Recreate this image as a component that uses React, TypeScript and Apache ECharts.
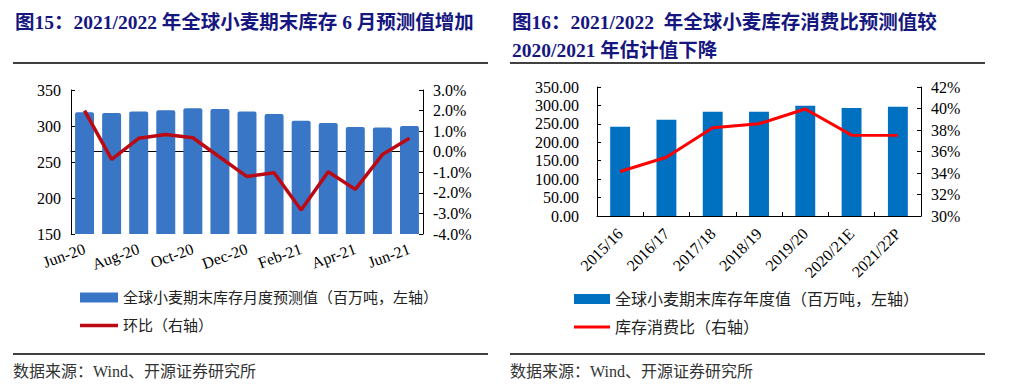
import React, { useEffect, useRef } from "react";
import * as echarts from "echarts";

// Left chart (图15)
const monthCats = ["Jun-20", "Jul-20", "Aug-20", "Sep-20", "Oct-20", "Nov-20", "Dec-20", "Jan-21", "Feb-21", "Mar-21", "Apr-21", "May-21", "Jun-21"];
const monthStocks = [319, 318, 320, 322, 324.5, 323.6, 320, 316.7, 307.4, 304, 298.6, 298, 300];
const monthChange = [2.0, -0.37, 0.65, 0.84, 0.68, -0.27, -1.21, -1.02, -2.83, -0.97, -1.83, -0.14, 0.65];

// Right chart (图16)
const yearCats = ["2015/16", "2016/17", "2017/18", "2018/19", "2019/20", "2020/21E", "2021/22P"];
const yearStocks = [242, 261, 283, 283, 299, 293, 296.5];
const stockToUse = [34.14, 35.47, 38.2, 38.58, 39.95, 37.52, 37.5];

const leftTitle = "图15：2021/2022 年全球小麦期末库存 6 月预测值增加";
const rightTitle1 = "图16：2021/2022  年全球小麦库存消费比预测值较";
const rightTitle2 = "2020/2021 年估计值下降";
const source = "数据来源：Wind、开源证券研究所";
const leftBarName = "全球小麦期末库存月度预测值（百万吨，左轴）";
const leftLineName = "环比（右轴）";
const rightBarName = "全球小麦期末库存年度值（百万吨，左轴）";
const rightLineName = "库存消费比（右轴）";

const SERIF = "'Liberation Serif', 'Noto Sans CJK SC', serif";
const CJK = "'Liberation Serif', 'Noto Sans CJK SC', sans-serif";
const TITLE_COLOR = "#16167f";

export default function App() {
  const ref = useRef<HTMLDivElement>(null);
  useEffect(() => {
    if (!ref.current) return;
    const chart = echarts.init(ref.current, null, { renderer: "svg" });
    const axisLine = { show: true, lineStyle: { color: "#000", width: 1 } };
    const axisLabel = { color: "#000", fontSize: 16, fontFamily: SERIF };
    const tickIn = { show: true, inside: true, length: 4, lineStyle: { color: "#000" } };
    const hline = (x1: number, x2: number, y: number) => ({
      type: "line",
      shape: { x1, y1: y, x2, y2: y },
      style: { stroke: "#000", lineWidth: 1.5 },
    });
    const text = (t: string, x: number, y: number, size: number, bold: boolean, color: string) => ({
      type: "text",
      x,
      y,
      style: {
        text: t,
        fontSize: size,
        fontWeight: bold ? "bold" : "normal",
        fontFamily: CJK,
        fill: color,
        verticalAlign: "middle",
        align: "left",
      },
    });
    const legendBase = {
      padding: 0,
      itemGap: 5,
      textStyle: { color: "#222", fontFamily: CJK },
      orient: "horizontal",
    };
    chart.setOption({
      animation: false,
      grid: [
        { left: 71, right: 594, top: 90, height: 144 },
        { left: 597, right: 96, top: 87, height: 129 },
      ],
      xAxis: [
        {
          type: "category",
          gridIndex: 0,
          data: monthCats,
          axisLine,
          axisTick: { show: false },
          axisLabel: { ...axisLabel, interval: 1, rotate: 20, margin: 14 },
        },
        {
          type: "category",
          gridIndex: 1,
          data: yearCats,
          axisLine,
          axisTick: tickIn,
          axisLabel: { ...axisLabel, interval: 0, rotate: 45, margin: 15 },
        },
      ],
      yAxis: [
        {
          type: "value",
          gridIndex: 0,
          min: 150,
          max: 350,
          interval: 50,
          axisLine,
          axisTick: tickIn,
          splitLine: { show: false },
          axisLabel: { ...axisLabel, margin: 10 },
        },
        {
          type: "value",
          gridIndex: 0,
          position: "right",
          min: -4,
          max: 3,
          interval: 1,
          axisLine,
          axisTick: tickIn,
          splitLine: { show: false },
          axisLabel: { ...axisLabel, margin: 10, formatter: (v: number) => v.toFixed(1) + "%" },
        },
        {
          type: "value",
          gridIndex: 1,
          min: 0,
          max: 350,
          interval: 50,
          axisLine,
          axisTick: tickIn,
          splitLine: { show: false },
          axisLabel: { ...axisLabel, margin: 18, formatter: (v: number) => v.toFixed(2) },
        },
        {
          type: "value",
          gridIndex: 1,
          position: "right",
          min: 30,
          max: 42,
          interval: 2,
          axisLine,
          axisTick: tickIn,
          splitLine: { show: false },
          axisLabel: { ...axisLabel, margin: 10, formatter: (v: number) => v + "%" },
        },
      ],
      legend: [
        {
          ...legendBase,
          left: 80,
          top: 290,
          itemWidth: 38,
          itemHeight: 10,
          textStyle: { ...legendBase.textStyle, fontSize: 15 },
          data: [{ name: leftBarName, icon: "rect" }],
        },
        {
          ...legendBase,
          left: 80,
          top: 318,
          itemWidth: 38,
          itemHeight: 3.5,
          textStyle: { ...legendBase.textStyle, fontSize: 15 },
          data: [{ name: leftLineName, icon: "rect" }],
        },
        {
          ...legendBase,
          left: 574,
          top: 291,
          itemWidth: 36,
          itemHeight: 10,
          textStyle: { ...legendBase.textStyle, fontSize: 16 },
          data: [{ name: rightBarName, icon: "rect" }],
        },
        {
          ...legendBase,
          left: 574,
          top: 319,
          itemWidth: 36,
          itemHeight: 3,
          textStyle: { ...legendBase.textStyle, fontSize: 16 },
          data: [{ name: rightLineName, icon: "rect" }],
        },
      ],
      series: [
        {
          name: leftBarName,
          type: "bar",
          xAxisIndex: 0,
          yAxisIndex: 0,
          data: monthStocks,
          barWidth: "70%",
          itemStyle: { color: "#3a76c6", borderRadius: [2, 2, 0, 0] },
        },
        {
          name: leftLineName,
          type: "line",
          xAxisIndex: 0,
          yAxisIndex: 1,
          data: monthChange,
          symbol: "none",
          lineStyle: { color: "#bb0a14", width: 3.5 },
          itemStyle: { color: "#bb0a14" },
        },
        {
          name: rightBarName,
          type: "bar",
          xAxisIndex: 1,
          yAxisIndex: 2,
          data: yearStocks,
          barWidth: "43%",
          itemStyle: { color: "#0070c0" },
        },
        {
          name: rightLineName,
          type: "line",
          xAxisIndex: 1,
          yAxisIndex: 3,
          data: stockToUse,
          symbol: "none",
          lineStyle: { color: "#ff0000", width: 3 },
          itemStyle: { color: "#ff0000" },
        },
      ],
      graphic: [
        text(leftTitle, 15, 22, 19.5, true, TITLE_COLOR),
        text(rightTitle1, 512, 22, 19.5, true, TITLE_COLOR),
        text(rightTitle2, 512, 50, 19.5, true, TITLE_COLOR),
        hline(13, 488, 63),
        hline(510, 985, 63),
        hline(13, 488, 354),
        hline(510, 985, 354),
        text(source, 13, 371, 16, false, "#333"),
        text(source, 510, 371, 16, false, "#333"),
      ],
    });
    return () => chart.dispose();
  }, []);
  return (
    <div
      ref={ref}
      style={{ position: "absolute", left: 0, top: 0, width: 1017, height: 392, background: "#fff" }}
    />
  );
}
